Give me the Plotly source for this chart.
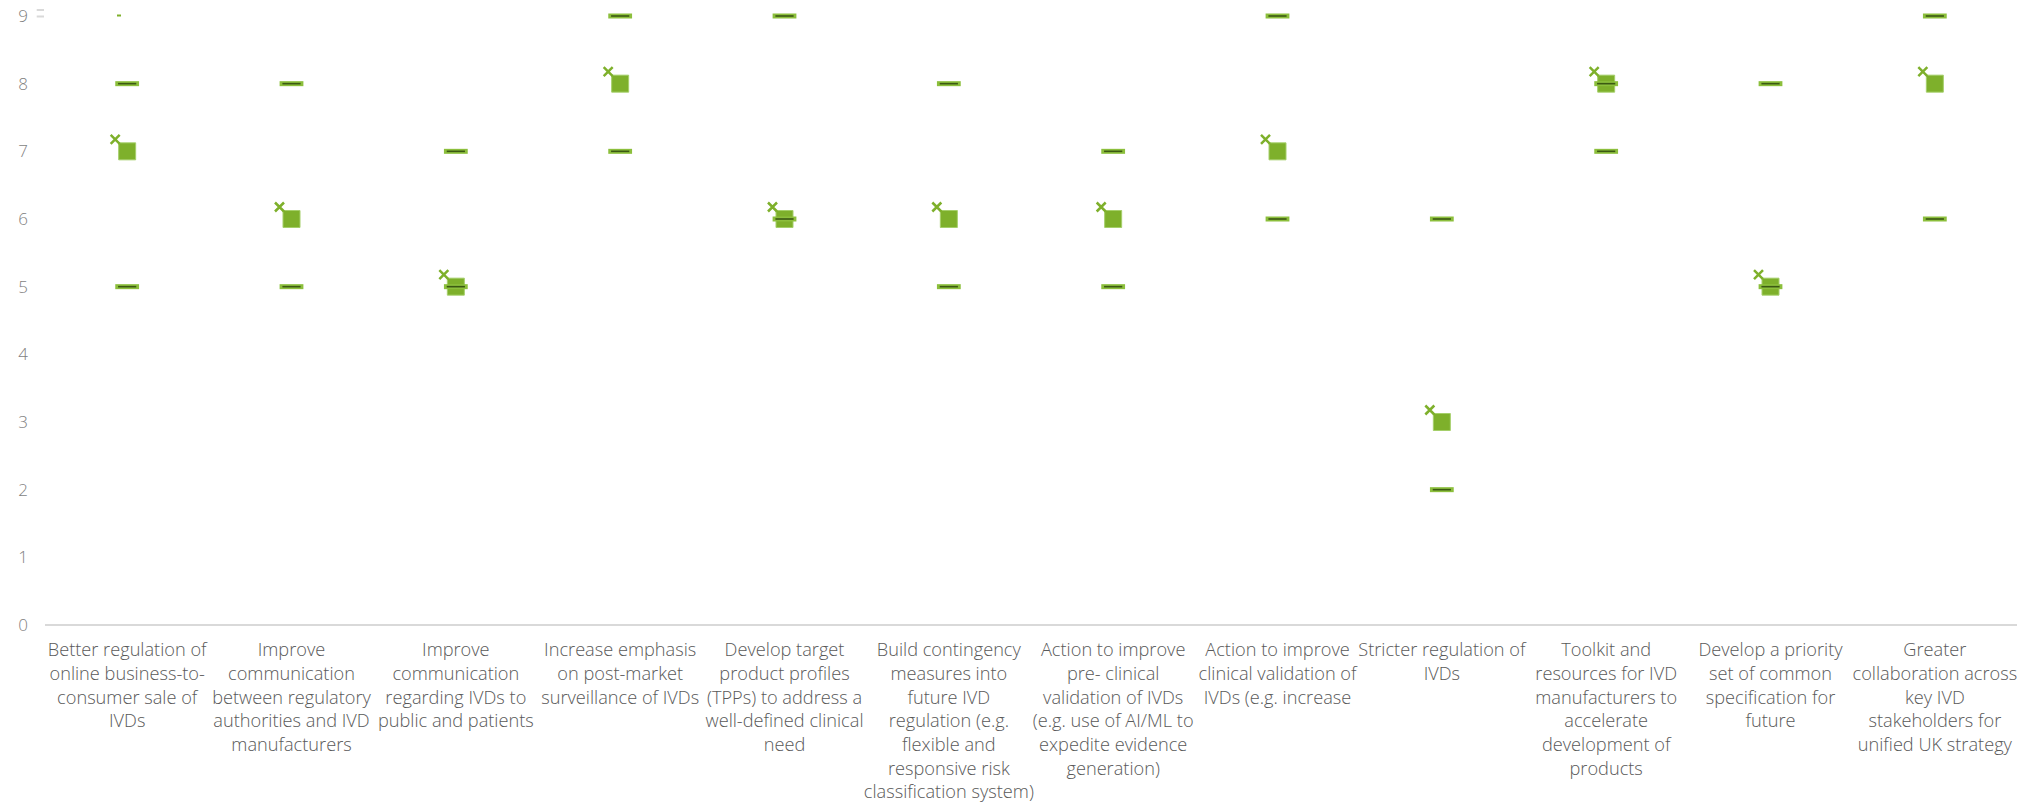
import plotly.graph_objects as go

categories = [
    "Better regulation of<br>online business-to-<br>consumer sale of<br>IVDs",
    "Improve<br>communication<br>between regulatory<br>authorities and IVD<br>manufacturers",
    "Improve<br>communication<br>regarding IVDs to<br>public and patients",
    "Increase emphasis<br>on post-market<br>surveillance of IVDs",
    "Develop target<br>product profiles<br>(TPPs) to address a<br>well-defined clinical<br>need",
    "Build contingency<br>measures into<br>future IVD<br>regulation (e.g.<br>flexible and<br>responsive risk<br>classification system)",
    "Action to improve<br>pre- clinical<br>validation of IVDs<br>(e.g. use of AI/ML to<br>expedite evidence<br>generation)",
    "Action to improve<br>clinical validation of<br>IVDs (e.g. increase",
    "Stricter regulation of<br>IVDs",
    "Toolkit and<br>resources for IVD<br>manufacturers to<br>accelerate<br>development of<br>products",
    "Develop a priority<br>set of common<br>specification for<br>future",
    "Greater<br>collaboration across<br>key IVD<br>stakeholders for<br>unified UK strategy",
]
upper = [8, 8, 7, 9, 9, 8, 7, 9, 6, 8, 8, 9]
median = [7, 6, 5, 8, 6, 6, 6, 7, 3, 8, 5, 8]
lower = [5, 5, 5, 7, 6, 5, 5, 6, 2, 7, 5, 6]
y_ticks = [0, 1, 2, 3, 4, 5, 6, 7, 8, 9]

W, H = 2032, 804
L, R, T, B = 45, 15, 16, 179
plot_w = W - L - R
plot_h = H - T - B
n = len(categories)
xpix = plot_w / n
ypix = plot_h / 9.0
# visual offset of the cross marker (about 12 px up-left of the square)
dx = 12 / xpix
dy = 12 / ypix

idx = list(range(n))
GREEN = "#7eb02b"
LIGHT = "#8cbf3c"
DARK = "#3b5912"

fig = go.Figure()
fig.add_trace(go.Scatter(
    x=idx, y=median, mode="markers", cliponaxis=False, showlegend=False,
    marker=dict(symbol="square", size=17, color=GREEN, line=dict(color="#a5cf6a", width=1)),
))
for vals in (upper, lower):
    fig.add_trace(go.Scatter(
        x=idx, y=vals, mode="markers", cliponaxis=False, showlegend=False,
        marker=dict(symbol="line-ew", size=17, line=dict(color=LIGHT, width=5)),
    ))
    fig.add_trace(go.Scatter(
        x=idx, y=vals, mode="markers", cliponaxis=False, showlegend=False,
        marker=dict(symbol="line-ew", size=13, line=dict(color=DARK, width=1.6)),
    ))
fig.add_trace(go.Scatter(
    x=[i - dx for i in idx], y=[m + dy for m in median], mode="markers",
    cliponaxis=False, showlegend=False,
    marker=dict(symbol="x-thin", size=9, line=dict(color=GREEN, width=2.5)),
))

shapes = [
    dict(type="line", xref="paper", yref="paper", x0=-0.0042, x1=-0.0005,
         y0=1.0 + 6 / plot_h, y1=1.0 + 6 / plot_h, line=dict(color="#d9d9d9", width=2)),
    dict(type="line", xref="paper", yref="paper", x0=-0.0042, x1=-0.0005,
         y0=1.0 - 0.5 / plot_h, y1=1.0 - 0.5 / plot_h, line=dict(color="#d9d9d9", width=2)),
    dict(type="line", xref="paper", yref="paper", x0=(117 - L) / plot_w, x1=(121 - L) / plot_w,
         y0=1.0 + 0.5 / plot_h, y1=1.0 + 0.5 / plot_h, line=dict(color=GREEN, width=2)),
]

fig.update_layout(
    width=W, height=H,
    margin=dict(l=L, r=R, t=T, b=B, autoexpand=False),
    paper_bgcolor="white", plot_bgcolor="white",
    font=dict(family="Open Sans", color="#595959"),
    shapes=shapes,
    xaxis=dict(
        range=[-0.5, n - 0.5], tickmode="array", tickvals=idx, ticktext=categories,
        tickangle=0, showgrid=False, zeroline=False, showline=False, ticks="",
        automargin=False, ticklabelstandoff=12,
        tickfont=dict(family="Open Sans", size=18.2, color="#595959", weight=300),
        fixedrange=True,
    ),
    yaxis=dict(
        range=[0, 9], tickmode="array", tickvals=y_ticks, showgrid=False,
        zeroline=True, zerolinecolor="#d9d9d9", zerolinewidth=2,
        showline=False, ticks="", ticklabelstandoff=16, automargin=False,
        tickfont=dict(family="Open Sans", size=17, color="#7f7f7f", weight=300),
        fixedrange=True,
    ),
)

fig.write_html("out.html")
